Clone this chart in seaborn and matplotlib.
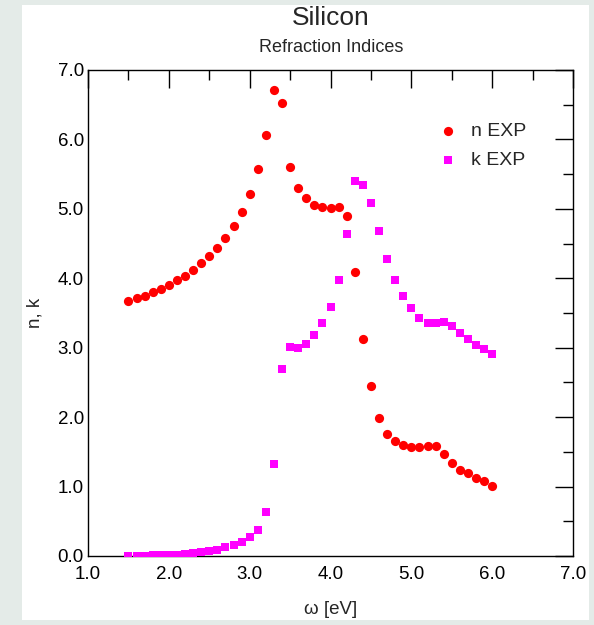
import numpy as np
import pandas as pd
import seaborn as sns
import matplotlib.pyplot as plt
from matplotlib.ticker import MultipleLocator, FormatStrFormatter

# photon energy in eV
omega = np.round(np.arange(1.5, 6.01, 0.1), 1)

n_exp = [3.68, 3.72, 3.75, 3.80, 3.85, 3.90, 3.97, 4.04, 4.12, 4.22,
         4.32, 4.44, 4.58, 4.75, 4.96, 5.22, 5.57, 6.06, 6.71, 6.52,
         5.61, 5.30, 5.16, 5.06, 5.02, 5.01, 5.02, 4.89, 4.09, 3.12,
         2.45, 1.99, 1.76, 1.66, 1.60, 1.57, 1.575, 1.59, 1.58, 1.47,
         1.34, 1.24, 1.19, 1.13, 1.08, 1.01]

k_exp = [0.00, 0.005, 0.005, 0.01, 0.01, 0.015, 0.02, 0.025, 0.04, 0.06,
         0.07, 0.09, 0.13, 0.16, 0.20, 0.27, 0.38, 0.63, 1.32, 2.70,
         3.01, 2.99, 3.06, 3.18, 3.35, 3.59, 3.98, 4.64, 5.40, 5.34,
         5.08, 4.68, 4.28, 3.98, 3.74, 3.57, 3.43, 3.36, 3.36, 3.37,
         3.31, 3.21, 3.12, 3.04, 2.98, 2.91]

df = pd.concat([
    pd.DataFrame({'omega': omega, 'value': n_exp, 'series': 'n EXP'}),
    pd.DataFrame({'omega': omega, 'value': k_exp, 'series': 'k EXP'}),
])

sns.set_style('white')
plt.rcParams['font.family'] = ['Liberation Sans', 'DejaVu Sans']

fig = plt.figure(figsize=(5.94, 6.25), dpi=100, facecolor='#e4ebe8')
# white page behind the graph
page = plt.Rectangle((22 / 594, 5 / 625), 567 / 594, 615 / 625,
                     transform=fig.transFigure, facecolor='white',
                     edgecolor='none', zorder=-10)
fig.add_artist(page)
ax = fig.add_axes([88 / 594, 1 - 556 / 625, 485 / 594, 486 / 625])
ax.set_facecolor('white')

# n markers (circles)
sns.scatterplot(data=df[df.series == 'n EXP'], x='omega', y='value', ax=ax,
                color='#ff0000', marker='o', s=44, linewidth=0, label='n EXP',
                zorder=3)
# k markers (squares)
sns.scatterplot(data=df[df.series == 'k EXP'], x='omega', y='value', ax=ax,
                color='#ff00ff', marker='s', s=34, linewidth=0, label='k EXP',
                zorder=3)

ax.set_xlim(1.0, 7.0)
ax.set_ylim(0.0, 7.0)
ax.xaxis.set_major_locator(MultipleLocator(1.0))
ax.xaxis.set_minor_locator(MultipleLocator(0.5))
ax.yaxis.set_major_locator(MultipleLocator(1.0))
ax.yaxis.set_minor_locator(MultipleLocator(0.5))
ax.xaxis.set_major_formatter(FormatStrFormatter('%.1f'))
ax.yaxis.set_major_formatter(FormatStrFormatter('%.1f'))
ax.tick_params(which='both', direction='in', top=True, right=True,
               color='black', width=1, labelsize=13.5, labelcolor='black')
ax.tick_params(which='major', length=13, pad=3)
ax.tick_params(which='minor', length=7)
ax.tick_params(axis='x', which='major', pad=7)
for s in ax.spines.values():
    s.set_color('black')
    s.set_linewidth(1.0)

ax.set_xlabel('\u03c9 [eV]', fontsize=13.5, labelpad=13)
ax.set_ylabel('n, k', fontsize=13.5, labelpad=10)

fig.text(331 / 594, 1 - 18 / 625, 'Silicon', ha='center', va='center', fontsize=19)
fig.text(331 / 594, 1 - 48 / 625, 'Refraction Indices', ha='center', va='center',
         fontsize=13)

leg = ax.legend(loc='upper left', bbox_to_anchor=(0.683, 0.928), frameon=False,
                fontsize=14, handletextpad=0.55, labelspacing=0.6,
                markerscale=1.0, handlelength=1.2)

plt.savefig('out.png', dpi=100, facecolor=fig.get_facecolor())
